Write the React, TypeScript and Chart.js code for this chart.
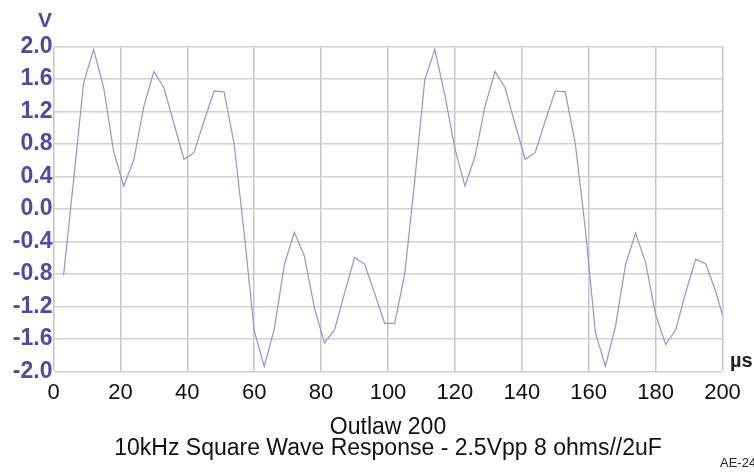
import { useEffect, useRef } from 'react';
import { Chart, registerables } from 'chart.js';

Chart.register(...registerables);

// Time (µs) of each sample
const times = [
  3, 6, 9, 12, 15, 18, 21, 24, 27, 30, 33, 36, 39, 42, 45, 48, 51, 54, 57, 60,
  63, 66, 69, 72, 75, 78, 81, 84, 87, 90, 93, 96, 99, 102, 105, 108, 111, 114, 117, 120,
  123, 126, 129, 132, 135, 138, 141, 144, 147, 150, 153, 156, 159, 162, 165, 168, 171, 174, 177, 180,
  183, 186, 189, 192, 195, 198, 200,
];

// Voltage (V) at each sample
const volts = [
  -0.82, 0.35, 1.55, 1.96, 1.49, 0.7, 0.28, 0.6, 1.26, 1.69, 1.49, 1.05, 0.61, 0.69, 1.08, 1.45, 1.44, 0.8, -0.3, -1.5,
  -1.94, -1.48, -0.69, -0.29, -0.58, -1.22, -1.65, -1.49, -1.04, -0.6, -0.68, -1.04, -1.41, -1.41, -0.8, 0.35, 1.59, 1.96, 1.4, 0.74,
  0.28, 0.64, 1.26, 1.69, 1.49, 1.04, 0.61, 0.69, 1.08, 1.45, 1.44, 0.8, -0.25, -1.52, -1.94, -1.45, -0.69, -0.3, -0.66, -1.3,
  -1.67, -1.49, -1.03, -0.62, -0.68, -1.02, -1.31,
];

const yTickValues = [-2.0, -1.6, -1.2, -0.8, -0.4, 0.0, 0.4, 0.8, 1.2, 1.6, 2.0];
const xTickValues = [0, 20, 40, 60, 80, 100, 120, 140, 160, 180, 200];
const titleLines = ['Outlaw 200', '10kHz Square Wave Response - 2.5Vpp 8 ohms//2uF'];
const yUnit = 'V';
const xUnit = 'µs';
const figureTag = 'AE-24';

const FONT = '"Liberation Sans", Arial, Helvetica, sans-serif';
const PURPLE = '#5447a6';
const LINE = '#9393da';

const unitsPlugin = {
  id: 'unitsPlugin',
  afterDraw(chart: any) {
    const { ctx, chartArea } = chart;
    const { left, right, top, bottom } = chartArea;
    ctx.save();
    ctx.textBaseline = 'alphabetic';
    ctx.font = `bold 21px ${FONT}`;
    ctx.fillStyle = PURPLE;
    ctx.textAlign = 'center';
    ctx.fillText(yUnit, left - 8.5, top - 19.5);
    ctx.font = `bold 20px ${FONT}`;
    ctx.fillStyle = '#222';
    ctx.textAlign = 'left';
    ctx.fillText(xUnit, right + 7.5, bottom - 4.5);
    ctx.font = `13px "Liberation Sans Narrow", ${FONT}`;
    ctx.fillStyle = '#222';
    ctx.fillText(figureTag, right - 2.5, chart.height - 6);
    ctx.restore();
  },
};

export default function App() {
  const canvasRef = useRef<HTMLCanvasElement | null>(null);

  useEffect(() => {
    if (!canvasRef.current) return;
    const chart = new Chart(canvasRef.current, {
      type: 'line',
      data: {
        datasets: [
          {
            data: times.map((t, i) => ({ x: t, y: volts[i] })),
            borderColor: LINE,
            borderWidth: 1.2,
            pointRadius: 0,
            tension: 0,
            fill: false,
          },
        ],
      },
      options: {
        responsive: false,
        animation: false,
        events: [],
        layout: { padding: { left: 0, right: 31.5, top: 46.3, bottom: 0 } },
        plugins: {
          legend: { display: false },
          tooltip: { enabled: false },
          title: { display: false },
        },
        scales: {
          x: {
            type: 'linear',
            min: 0,
            max: 200,
            afterBuildTicks: (s: any) => {
              s.ticks = xTickValues.map((v) => ({ value: v }));
            },
            afterFit: (s: any) => {
              s.height = 101.7;
            },
            ticks: {
              autoSkip: false,
              maxRotation: 0,
              padding: 11,
              color: '#111',
              font: { family: FONT, size: 22, lineHeight: 1 },
              callback: (v: any) => String(v),
            },
            grid: { color: '#c6c6c6', lineWidth: 1.5, drawTicks: false },
            border: { display: false },
            title: {
              display: true,
              text: titleLines,
              color: '#111',
              font: { family: FONT, size: 23, lineHeight: 0.92 },
              padding: { top: 0, bottom: 14 },
            },
          },
          y: {
            type: 'linear',
            min: -2,
            max: 2,
            afterBuildTicks: (s: any) => {
              s.ticks = yTickValues.map((v) => ({ value: v }));
            },
            afterFit: (s: any) => {
              s.width = 53.5;
            },
            ticks: {
              autoSkip: false,
              padding: 1,
              color: PURPLE,
              font: { family: FONT, size: 23, weight: 'bold', lineHeight: 1 },
              callback: (v: any) => Number(v).toFixed(1),
            },
            grid: { color: '#d2d2d2', lineWidth: 1.5, drawTicks: false },
            border: { display: false },
          },
        },
      },
      plugins: [unitsPlugin],
    } as any);
    return () => chart.destroy();
  }, []);

  return (
    <div style={{ position: 'absolute', left: 0, top: 0, width: 754, height: 473, background: '#fff' }}>
      <canvas ref={canvasRef} width={754} height={473} style={{ display: 'block' }} />
    </div>
  );
}
